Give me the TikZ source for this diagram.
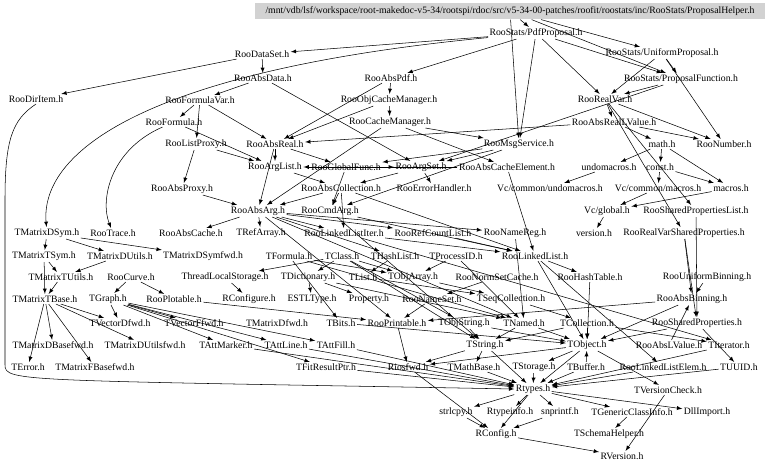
\documentclass[tikz,border=0pt]{standalone}
\usepackage{fontspec}
\setmainfont{Liberation Serif}
\tikzset{
  root/.style  = {fill=gray!35, inner sep=0pt, minimum width=382pt, minimum height=12.5pt},
  hfile/.style = {inner sep=1pt},
  dep/.style   = {draw, -latex, line width=0.4pt},
}

\begin{document}
\begin{tikzpicture}
  [
    x                 = 0.75pt,
    y                 = -0.75pt,
    every node/.style = {font=\fontsize{7.3}{8}\selectfont}
  ]
  \useasboundingbox (0,0) rectangle (768,468);
  \node [root] (hdr) at (510,11) {/mnt/vdb/lsf/workspace/root-makedoc-v5-34/rootspi/rdoc/src/v5-34-00-patches/roofit/roostats/inc/RooStats/ProposalHelper.h};
  \node [hfile] (pdfprop)    at (536,33)  {RooStats/PdfProposal.h};
  \node [hfile] (unifprop)   at (662,53)  {RooStats/UniformProposal.h};
  \node [hfile] (dataset)    at (262,54)  {RooDataSet.h};
  \node [hfile] (absdata)    at (263,78)  {RooAbsData.h};
  \node [hfile] (abspdf)     at (391,78)  {RooAbsPdf.h};
  \node [hfile] (propfunc)   at (681,79)  {RooStats/ProposalFunction.h};
  \node [hfile] (diritem)    at (36,99)   {RooDirItem.h};
  \node [hfile] (formvar)    at (200,100) {RooFormulaVar.h};
  \node [hfile] (objcache)   at (389,100) {RooObjCacheManager.h};
  \node [hfile] (realvar)    at (605,99)  {RooRealVar.h};
  \node [hfile] (formula)    at (174,122) {RooFormula.h};
  \node [hfile] (cachemgr)   at (390,122) {RooCacheManager.h};
  \node [hfile] (absreallv)  at (614,122) {RooAbsRealLValue.h};
  \node [hfile] (listproxy)  at (196,144) {RooListProxy.h};
  \node [hfile] (absreal)    at (275,144) {RooAbsReal.h};
  \node [hfile] (msgsvc)     at (519,144) {RooMsgService.h};
  \node [hfile] (mathh)      at (662,144) {math.h};
  \node [hfile] (number)     at (724,144) {RooNumber.h};
  \node [hfile] (arglist)    at (275,167) {RooArgList.h};
  \node [hfile] (globfunc)   at (346,167) {RooGlobalFunc.h};
  \node [hfile] (argset)     at (421,167) {RooArgSet.h};
  \node [hfile] (cacheelem)  at (507,167) {RooAbsCacheElement.h};
  \node [hfile] (undomac)    at (609,167) {undomacros.h};
  \node [hfile] (consth)     at (660,167) {const.h};
  \node [hfile] (absproxy)   at (182,189) {RooAbsProxy.h};
  \node [hfile] (abscoll)    at (341,188) {RooAbsCollection.h};
  \node [hfile] (errhandler) at (434,188) {RooErrorHandler.h};
  \node [hfile] (vcundomac)  at (550,188) {Vc/common/undomacros.h};
  \node [hfile] (vcmacros)   at (658,188) {Vc/common/macros.h};
  \node [hfile] (macros)     at (731,188) {macros.h};
  \node [hfile] (absarg)     at (258,211) {RooAbsArg.h};
  \node [hfile] (cmdarg)     at (330,211) {RooCmdArg.h};
  \node [hfile] (vcglobal)   at (607,211) {Vc/global.h};
  \node [hfile] (shproplist) at (696,211) {RooSharedPropertiesList.h};
  \node [hfile] (mdsym)      at (47,233)  {TMatrixDSym.h};
  \node [hfile] (trace)      at (113,233) {RooTrace.h};
  \node [hfile] (abscache)   at (191,233) {RooAbsCache.h};
  \node [hfile] (refarray)   at (261,233) {TRefArray.h};
  \node [hfile] (llistiter)  at (344,233) {RooLinkedListIter.h};
  \node [hfile] (refcount)   at (433,233) {RooRefCountList.h};
  \node [hfile] (namereg)    at (515,233) {RooNameReg.h};
  \node [hfile] (version)    at (594,233) {version.h};
  \node [hfile] (rvshprop)   at (684,233) {RooRealVarSharedProperties.h};
  \node [hfile] (mtsym)      at (44,256)  {TMatrixTSym.h};
  \node [hfile] (mdutils)    at (120,256) {TMatrixDUtils.h};
  \node [hfile] (mdsymfwd)   at (203,256) {TMatrixDSymfwd.h};
  \node [hfile] (tformula)   at (289,256) {TFormula.h};
  \node [hfile] (tclass)     at (342,256) {TClass.h};
  \node [hfile] (hashlist)   at (395,256) {THashList.h};
  \node [hfile] (processid)  at (456,256) {TProcessID.h};
  \node [hfile] (llist)      at (535,256) {RooLinkedList.h};
  \node [hfile] (mtutils)    at (61,277)  {TMatrixTUtils.h};
  \node [hfile] (curve)      at (131,277) {RooCurve.h};
  \node [hfile] (tls)        at (225,277) {ThreadLocalStorage.h};
  \node [hfile] (dictionary) at (308,277) {TDictionary.h};
  \node [hfile] (tlist)      at (363,277) {TList.h};
  \node [hfile] (objarray)   at (413,277) {TObjArray.h};
  \node [hfile] (normset)    at (497,277) {RooNormSetCache.h};
  \node [hfile] (hashtable)  at (590,277) {RooHashTable.h};
  \node [hfile] (unifbin)    at (707,277) {RooUniformBinning.h};
  \node [hfile] (mtbase)     at (45,299)  {TMatrixTBase.h};
  \node [hfile] (graph)      at (108,299) {TGraph.h};
  \node [hfile] (plotable)   at (174,299) {RooPlotable.h};
  \node [hfile] (rconfigure) at (249,299) {RConfigure.h};
  \node [hfile] (estl)       at (312,299) {ESTLType.h};
  \node [hfile] (property)   at (369,299) {Property.h};
  \node [hfile] (nameset)    at (432,299) {RooNameSet.h};
  \node [hfile] (seqcoll)    at (511,299) {TSeqCollection.h};
  \node [hfile] (absbin)     at (692,299) {RooAbsBinning.h};
  \node [hfile] (vdfwd)      at (120,323) {TVectorDfwd.h};
  \node [hfile] (vffwd)      at (194,323) {TVectorFfwd.h};
  \node [hfile] (mdfwd)      at (277,323) {TMatrixDfwd.h};
  \node [hfile] (bits)       at (341,323) {TBits.h};
  \node [hfile] (printable)  at (397,323) {RooPrintable.h};
  \node [hfile] (objstring)  at (464,323) {TObjString.h};
  \node [hfile] (named)      at (524,323) {TNamed.h};
  \node [hfile] (collection) at (587,323) {TCollection.h};
  \node [hfile] (shprop)     at (697,323) {RooSharedProperties.h};
  \node [hfile] (mdbasefwd)  at (53,345)  {TMatrixDBasefwd.h};
  \node [hfile] (mdutilsfwd) at (145,345) {TMatrixDUtilsfwd.h};
  \node [hfile] (attmarker)  at (226,345) {TAttMarker.h};
  \node [hfile] (attline)    at (286,345) {TAttLine.h};
  \node [hfile] (attfill)    at (336,345) {TAttFill.h};
  \node [hfile] (tstring)    at (485,345) {TString.h};
  \node [hfile] (tobject)    at (587,345) {TObject.h};
  \node [hfile] (abslvalue)  at (669,345) {RooAbsLValue.h};
  \node [hfile] (iterator)   at (729,345) {TIterator.h};
  \node [hfile] (terror)     at (28,367)  {TError.h};
  \node [hfile] (mfbasefwd)  at (95,367)  {TMatrixFBasefwd.h};
  \node [hfile] (fitresptr)  at (326,367) {TFitResultPtr.h};
  \node [hfile] (riosfwd)    at (408,367) {Riosfwd.h};
  \node [hfile] (mathbase)   at (474,367) {TMathBase.h};
  \node [hfile] (storage)    at (534,367) {TStorage.h};
  \node [hfile] (buffer)     at (586,367) {TBuffer.h};
  \node [hfile] (llistelem)  at (663,367) {RooLinkedListElem.h};
  \node [hfile] (uuid)       at (739,367) {TUUID.h};
  \node [hfile] (rtypes)     at (533,389) {Rtypes.h};
  \node [hfile] (vcheck)     at (668,390) {TVersionCheck.h};
  \node [hfile] (strlcpy)    at (456,412) {strlcpy.h};
  \node [hfile] (rtypeinfo)  at (510,412) {Rtypeinfo.h};
  \node [hfile] (snprintf)   at (560,412) {snprintf.h};
  \node [hfile] (genclass)   at (632,412) {TGenericClassInfo.h};
  \node [hfile] (dllimport)  at (707,412) {DllImport.h};
  \node [hfile] (rconfig)    at (496,434) {RConfig.h};
  \node [hfile] (schema)     at (609,434) {TSchemaHelper.h};
  \node [hfile] (rversion)   at (622,456) {RVersion.h};

  \foreach \a/\b in {hdr/pdfprop, hdr/unifprop, hdr/propfunc, hdr/msgsvc,
      pdfprop/dataset, pdfprop/abspdf, pdfprop/propfunc, pdfprop/realvar, pdfprop/msgsvc,
      unifprop/propfunc, unifprop/realvar, unifprop/number, propfunc/realvar, propfunc/argset,
      dataset/absdata, dataset/diritem, absdata/formvar, absdata/argset,
      abspdf/objcache, abspdf/absreal, objcache/cachemgr, objcache/absreal,
      formvar/formula, formvar/listproxy, formvar/absreal, formula/arglist,
      cachemgr/absarg, cachemgr/cacheelem, cachemgr/msgsvc,
      realvar/absreallv, realvar/number, realvar/shproplist, realvar/rvshprop,
      absreallv/mathh, absreallv/number, absreallv/absreal,
      listproxy/absproxy, listproxy/arglist, absreal/arglist, absreal/globfunc, absreal/absarg,
      msgsvc/globfunc, msgsvc/argset, msgsvc/cmdarg,
      mathh/undomac, mathh/consth, mathh/macros, consth/vcmacros, consth/macros,
      undomac/vcundomac, macros/vcglobal, vcmacros/vcglobal, vcglobal/version,
      shproplist/shprop, rvshprop/absbin, rvshprop/shprop,
      arglist/abscoll, argset/abscoll, argset/errhandler, globfunc/cmdarg, globfunc/argset,
      cacheelem/arglist, cacheelem/llist,
      abscoll/absarg, abscoll/cmdarg, abscoll/llistiter, abscoll/llist,
      absproxy/absarg, cmdarg/llist, cmdarg/tstring,
      absarg/refarray, absarg/abscache, absarg/refcount, absarg/namereg, absarg/llistiter,
      absarg/hashlist, absarg/printable, absarg/named,
      mdsym/mtsym, mdsym/mdutils, mdsym/mdsymfwd, mtsym/mtutils, mtsym/mtbase,
      mdutils/mtutils, mtutils/mtbase,
      mtbase/mdbasefwd, mtbase/terror, mtbase/mfbasefwd, mtbase/vdfwd, mtbase/mdutilsfwd,
      curve/graph, curve/plotable,
      graph/attline, graph/attfill, graph/attmarker, graph/vdfwd, graph/vffwd, graph/fitresptr,
      plotable/printable, tformula/bits, tformula/objarray, tformula/named,
      tclass/dictionary, tclass/objarray, tclass/tstring, tclass/tls, tclass/objstring,
      dictionary/estl, dictionary/property, dictionary/named, tls/rconfigure,
      hashlist/tlist, tlist/seqcoll, processid/objarray, processid/named, objarray/seqcoll,
      refcount/llist, namereg/named, llistiter/llist, llistiter/iterator,
      llist/hashtable, llist/llistelem, llist/tobject, normset/nameset, nameset/printable,
      seqcoll/collection, collection/tobject, collection/iterator, collection/tstring,
      objstring/tstring, objstring/tobject, named/tstring, named/tobject, bits/tobject,
      printable/riosfwd, hashtable/tobject,
      tobject/rtypes, tobject/storage, tobject/vcheck, tobject/riosfwd,
      tstring/mathbase, tstring/rtypes, tstring/riosfwd,
      mathbase/rtypes, storage/rtypes, buffer/tobject, buffer/rtypes,
      unifbin/absbin, absbin/printable, absbin/tobject, shprop/tobject, shprop/uuid,
      abslvalue/absbin, iterator/rtypes, uuid/rtypes, llistelem/rtypes,
      attfill/rtypes, attline/rtypes, attmarker/rtypes, fitresptr/rtypes,
      rtypes/strlcpy, rtypes/rtypeinfo, rtypes/snprintf, rtypes/genclass, rtypes/dllimport,
      rtypes/rconfig, genclass/schema, strlcpy/rconfig, snprintf/rconfig, riosfwd/rconfig,
      rconfig/rversion, vcheck/rversion}
    \draw [dep] (\a) -- (\b);
  \draw [dep] (pdfprop) .. controls (150,70) and (40,150) .. (mdsym);
  \draw [dep] (formula) .. controls (110,150) and (100,200) .. (trace);
  \draw [dep] (diritem.south) .. controls (12,120) and (5,140) .. (5,200)
    -- (5,365) .. controls (5,382) and (20,380) .. (rtypes.west);
\end{tikzpicture}
\end{document}
